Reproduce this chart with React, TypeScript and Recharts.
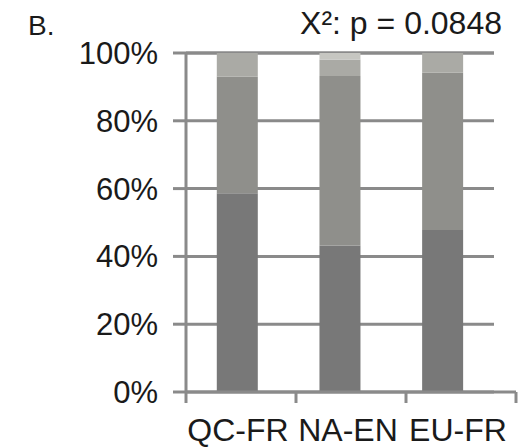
import React from "react"
import { BarChart, Bar, XAxis, YAxis, CartesianGrid } from "recharts"

const categories = ["QC-FR", "NA-EN", "EU-FR"]
const darkShare = [58.6, 43.2, 47.8]
const midShare = [34.4, 50.0, 46.4]
const lightShare = [7.0, 4.9, 5.8]
const topShare = [0, 1.9, 0]
const yTicks = [0, 20, 40, 60, 80, 100]
const pValue = "0.0848"

const data = categories.map((name, i) => ({
  name,
  dark: darkShare[i],
  mid: midShare[i],
  light: lightShare[i],
  top: topShare[i],
}))

const FONT = "'Liberation Sans', Arial, sans-serif"
const AXIS = "#8a8a8a"
const W = 526
const H = 447
const PLOT_LEFT = 186
const PLOT_RIGHT = 494
const PLOT_BOTTOM = 392
const X_AXIS_H = 30
// the category axis runs a bit wider than the bar area
const BAND = (PLOT_RIGHT - PLOT_LEFT) / categories.length
const SLOT = 110

const CategoryTick = (props: any) => {
  const { x, y, index, payload } = props
  const c = PLOT_LEFT + (x - PLOT_LEFT) * SLOT / BAND
  const left = c - SLOT / 2
  const right = c + SLOT / 2
  return (
    <g>
      <line x1={left} x2={right} y1={y} y2={y} stroke={AXIS} strokeWidth={3} />
      {index === 0 && <line x1={left} x2={left} y1={y} y2={y + 11} stroke={AXIS} strokeWidth={3} />}
      <line x1={right} x2={right} y1={y} y2={y + 11} stroke={AXIS} strokeWidth={3} />
      <text x={c - 3} y={y + 49} textAnchor="middle" fontSize={32} fontFamily={FONT} fill="#1a1a1a">
        {payload.value}
      </text>
    </g>
  )
}

export default function App() {
  return (
    <div style={{ position: "absolute", left: 0, top: 0, width: W, height: H, background: "#fff" }}>
      <BarChart
        width={W}
        height={H}
        data={data}
        margin={{ top: 53, right: W - PLOT_RIGHT, bottom: H - PLOT_BOTTOM - X_AXIS_H, left: 0 }}
        barCategoryGap="30%"
      >
        <CartesianGrid vertical={false} stroke={AXIS} strokeWidth={3} strokeOpacity={1} />
        <XAxis
          dataKey="name"
          height={X_AXIS_H}
          axisLine={false}
          tickLine={false}
          tickSize={0}
          tickMargin={0}
          interval={0}
          tick={<CategoryTick />}
        />
        <YAxis
          width={PLOT_LEFT}
          domain={[0, 100]}
          ticks={yTicks}
          tickFormatter={(v) => `${v}%`}
          axisLine={{ stroke: AXIS, strokeWidth: 3 }}
          tickLine={{ stroke: AXIS, strokeWidth: 3 }}
          tickSize={13}
          tickMargin={15}
          tick={{ fontSize: 31, fontFamily: FONT, fill: "#1a1a1a" }}
        />
        <Bar dataKey="dark" stackId="a" fill="#787878" isAnimationActive={false} />
        <Bar dataKey="mid" stackId="a" fill="#8f8f8b" isAnimationActive={false} />
        <Bar dataKey="light" stackId="a" fill="#aaaaa5" isAnimationActive={false} />
        <Bar dataKey="top" stackId="a" fill="#c6c6c1" isAnimationActive={false} />
      </BarChart>
      <svg width={W} height={H} style={{ position: "absolute", left: 0, top: 0, pointerEvents: "none" }}>
        <text x={28} y={35} fontSize={28} fontFamily={FONT} fill="#1a1a1a">B.</text>
        <text x={502} y={34} textAnchor="end" fontSize={32} fontFamily={FONT} fill="#1a1a1a">
          X²: p = {pValue}
        </text>
      </svg>
    </div>
  )
}
